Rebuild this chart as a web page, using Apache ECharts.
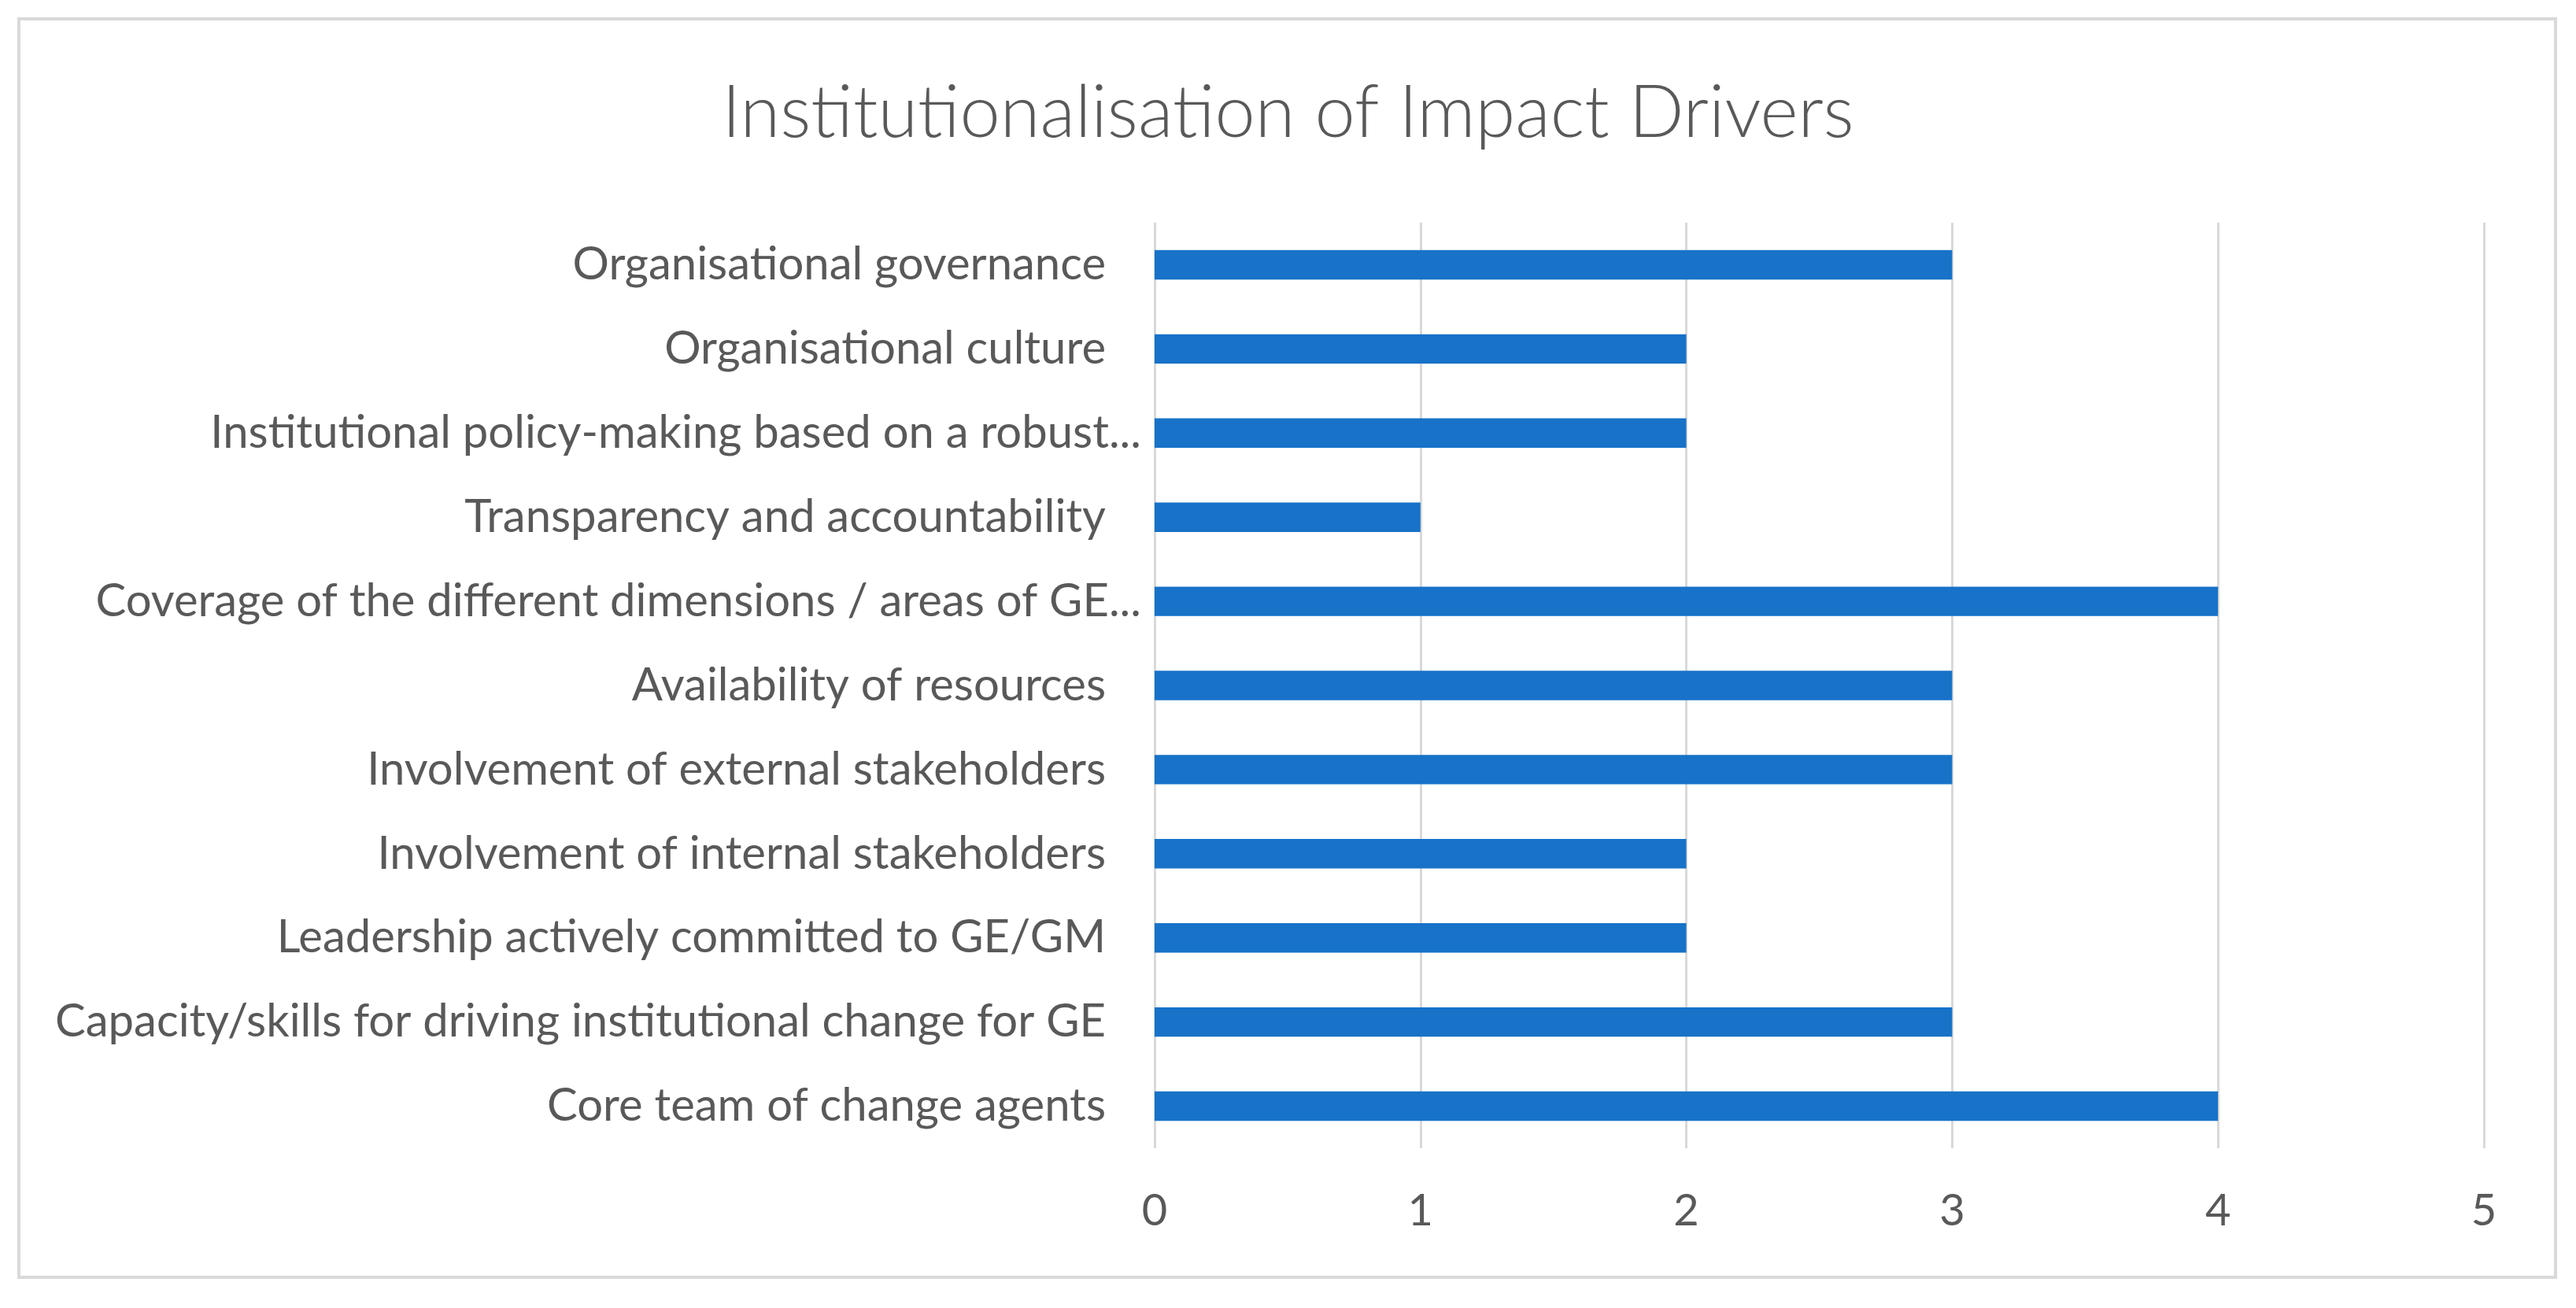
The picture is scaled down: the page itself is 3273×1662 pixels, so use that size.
<!DOCTYPE html>
<html>
<head>
<meta charset="utf-8">
<script src="https://cdn.jsdelivr.net/npm/echarts@6/dist/echarts.min.js"></script>
<style>
html,body{margin:0;padding:0;background:#fff;}
#c{width:3273px;height:1662px;}
</style>
</head>
<body>
<div id="c"></div>
<script>
const titleText = 'Institutionalisation of Impact Drivers';
const categories = [
  'Organisational governance',
  'Organisational culture',
  'Institutional policy-making based on a robust...',
  'Transparency and accountability',
  'Coverage of the different dimensions / areas of GE...',
  'Availability of resources',
  'Involvement of external stakeholders',
  'Involvement of internal stakeholders',
  'Leadership actively committed to GE/GM',
  'Capacity/skills for driving institutional change for GE',
  'Core team of change agents'
];
const values = [3, 2, 2, 1, 4, 3, 3, 2, 2, 3, 4];
const xTicks = [0, 1, 2, 3, 4, 5];

const FONT = 'Lato';
const LBL = { fontFamily: FONT, fontSize: 58, color: '#595959' };
const chart = echarts.init(document.getElementById('c'));
chart.setOption({
  backgroundColor: '#fff',
  animation: false,
  graphic: [{
    type: 'rect',
    shape: { x: 24, y: 24, width: 3223, height: 1599 },
    style: { fill: 'none', stroke: '#d9d9d9', lineWidth: 4 },
    silent: true
  }],
  title: {
    text: titleText,
    left: 'center',
    top: 93,
    textStyle: { fontFamily: FONT, fontWeight: 300, fontSize: 92, color: '#595959' }
  },
  grid: { left: 1467, right: 117, top: 283, bottom: 203, containLabel: false },
  xAxis: {
    type: 'value',
    min: xTicks[0],
    max: xTicks[xTicks.length - 1],
    interval: 1,
    axisLine: { show: false },
    axisTick: { show: false },
    splitLine: { show: true, lineStyle: { color: '#d9d9d9', width: 3 } },
    axisLabel: { fontFamily: FONT, fontSize: 56, color: '#595959', margin: 52 }
  },
  yAxis: {
    type: 'category',
    data: categories,
    inverse: true,
    axisLine: { show: false },
    axisTick: { show: false },
    axisLabel: {
      fontFamily: FONT, fontSize: 58, color: '#595959', margin: 17,
      formatter: v => v.endsWith('...') ? '{t|' + v + '}' : '{n|' + v + '}',
      rich: {
        t: Object.assign({}, LBL),
        n: Object.assign({ padding: [0, 45, 0, 0] }, LBL)
      }
    }
  },
  series: [{
    type: 'bar',
    data: values,
    barWidth: '35%',
    itemStyle: { color: '#1772c8' }
  }]
});
</script>
</body>
</html>
